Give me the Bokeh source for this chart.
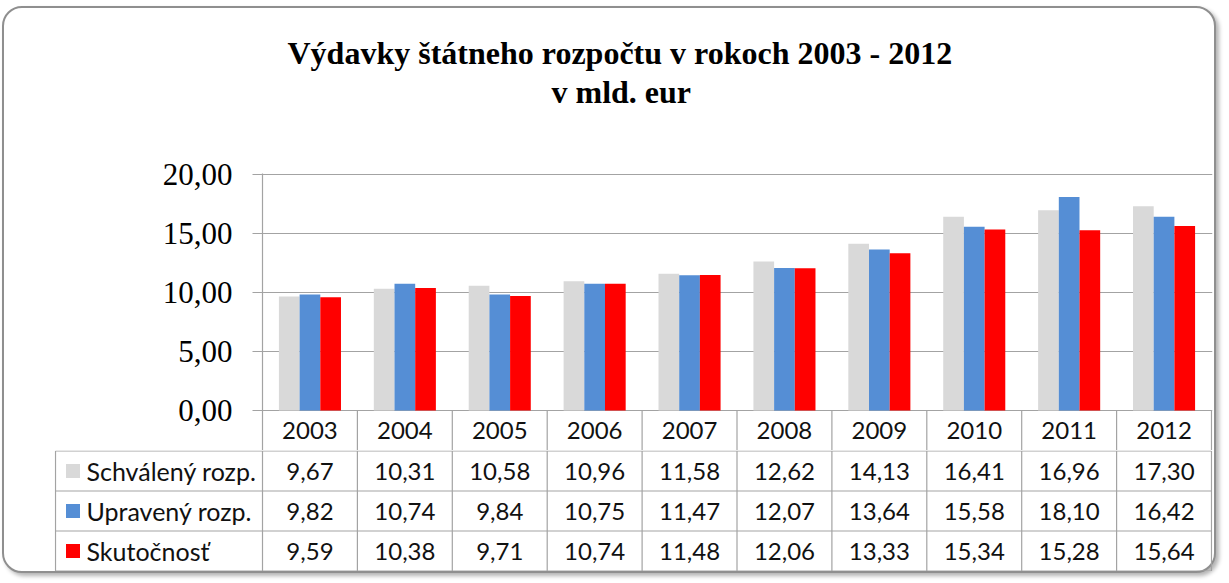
from bokeh.plotting import figure
from bokeh.models import Range1d, FixedTicker, Title, ColumnDataSource, Spacer
from bokeh.layouts import column, row
from bokeh.core.properties import value
from bokeh.embed import file_html
from bokeh.resources import INLINE

# ---- data ----
years = ["2003", "2004", "2005", "2006", "2007", "2008", "2009", "2010", "2011", "2012"]
series_names = ["Schválený rozp.", "Upravený rozp.", "Skutočnosť"]
schvaleny = [9.67, 10.31, 10.58, 10.96, 11.58, 12.62, 14.13, 16.41, 16.96, 17.30]
upraveny = [9.82, 10.74, 9.84, 10.75, 11.47, 12.07, 13.64, 15.58, 18.10, 16.42]
skutocnost = [9.59, 10.38, 9.71, 10.74, 11.48, 12.06, 13.33, 15.34, 15.28, 15.64]
y_ticks = [0, 5, 10, 15, 20]
title_line1 = "Výdavky štátneho rozpočtu v rokoch 2003 - 2012"
title_line2 = "v mld. eur"

# ---- style ----
colors = ["#D9D9D9", "#558ED5", "#FF0000"]
grid_col = "#a3a3a3"
serif = "Liberation Serif"
sans = "Lato"
series = [schvaleny, upraveny, skutocnost]

def fmt(v):
    return f"{v:.2f}".replace(".", ",")

CAT_PX = 94.9      # px per category
Y_PX = 11.8        # px per value unit
ROW_PX = 40.0      # table row height
YEAR_ROW_UNITS = ROW_PX / Y_PX
W = 1210

xs = [i + 0.5 for i in range(len(years))]
bar_w = 0.218
offsets = [-bar_w, 0.0, bar_w]

# ---------------- chart (with year row) ----------------
A = figure(width=W, height=442, output_backend="svg", toolbar_location=None,
           x_range=Range1d(0, 10 + 1 / CAT_PX),
           y_range=Range1d(-YEAR_ROW_UNITS, 20 + 1 / Y_PX),
           x_axis_location=None,
           min_border_left=258, min_border_right=2, min_border_top=165, min_border_bottom=0)
A.title = None
# spacer title nearest the frame, then the two title lines
A.add_layout(Title(text=" ", text_font=serif, text_font_size="32px", standoff=26), "above")
A.add_layout(Title(text=title_line2, align="left", offset=289,
                   text_font=serif, text_font_size="32px", text_font_style="bold",
                   text_color="#000000", standoff=0), "above")
A.add_layout(Title(text=title_line1, align="left", offset=25,
                   text_font=serif, text_font_size="32px", text_font_style="bold",
                   text_color="#000000", standoff=2), "above")

for vals, off, c in zip(series, offsets, colors):
    src = ColumnDataSource(dict(x=[x + off for x in xs], top=vals))
    A.vbar(x="x", top="top", width=bar_w, bottom=0, source=src,
           fill_color=c, line_color=None)

A.outline_line_color = None
A.xgrid.visible = False
A.ygrid.ticker = FixedTicker(ticks=y_ticks)
A.ygrid.grid_line_color = grid_col
A.ygrid.grid_line_width = 1.2
ax = A.yaxis[0]
ax.ticker = FixedTicker(ticks=y_ticks)
ax.major_label_overrides = {t: fmt(t) for t in y_ticks}
ax.major_label_text_font = serif
ax.major_label_text_font_size = "31px"
ax.major_label_text_color = "#000000"
ax.major_tick_out = 10
ax.major_tick_in = 0
ax.minor_tick_line_color = None
ax.axis_line_color = grid_col
ax.axis_line_width = 1.2
ax.major_tick_line_color = grid_col
ax.major_tick_line_width = 1.2
ax.major_label_standoff = 20
A.border_fill_alpha = 0
A.background_fill_alpha = 0

# year row cells
vx = list(range(1, 11))
A.segment(x0=vx, y0=[0] * len(vx), x1=vx, y1=[-YEAR_ROW_UNITS] * len(vx),
          line_color=grid_col, line_width=1.2)
A.text(x=xs, y=[-YEAR_ROW_UNITS / 2] * len(xs), text=years, text_align="center",
       text_baseline="middle", text_font=value(sans), text_font_size="24px",
       text_color="#111111")

# ---------------- table rows ----------------
left_x = -(262 - 55) / CAT_PX
B = figure(width=W - 1, height=121, output_backend="svg", toolbar_location=None,
           x_range=Range1d(-(262 - 54) / CAT_PX, 10 + 1 / CAT_PX),
           y_range=Range1d(-0.5 / ROW_PX, 3 + 0.5 / ROW_PX),
           x_axis_location=None, y_axis_location=None,
           min_border_left=49, min_border_right=2, min_border_top=0, min_border_bottom=0)
B.outline_line_color = None
B.xgrid.visible = False
B.ygrid.visible = False
B.border_fill_alpha = 0
B.background_fill_alpha = 0

hy = [0, 1, 2, 3]
B.segment(x0=[left_x] * len(hy), y0=hy, x1=[10] * len(hy), y1=hy,
          line_color=grid_col, line_width=1.2)
bx = list(range(0, 11))
B.segment(x0=bx, y0=[0] * len(bx), x1=bx, y1=[3] * len(bx),
          line_color=grid_col, line_width=1.2)
B.segment(x0=[left_x], y0=[0], x1=[left_x], y1=[3], line_color=grid_col, line_width=1.2)

row_y = [2.5, 1.5, 0.5]
for name, vals, c, ry in zip(series_names, series, colors, row_y):
    B.text(x=xs, y=[ry] * len(xs), text=[fmt(v) for v in vals],
           text_align="center", text_baseline="middle",
           text_font=value(sans), text_font_size="24px", text_color="#111111")
    B.scatter(x=[left_x + (72.5 - 55) / CAT_PX], y=[ry], marker="square", size=14,
              fill_color=c, line_color=None)
    B.text(x=[left_x + (86 - 55) / CAT_PX], y=[ry], text=[name],
           text_align="left", text_baseline="middle",
           text_font=value(sans), text_font_size="25px", text_color="#111111")

inner = column(A, row(Spacer(width=1), B),
               styles={"border": "2px solid #8f8f8f", "border-radius": "20px",
                       "box-shadow": "3px 3px 4px rgba(0,0,0,0.30)",
                       "background-color": "#ffffff"})
layout = column(Spacer(height=6), row(Spacer(width=2), inner))

open("out.html", "w").write(file_html(layout, INLINE))
